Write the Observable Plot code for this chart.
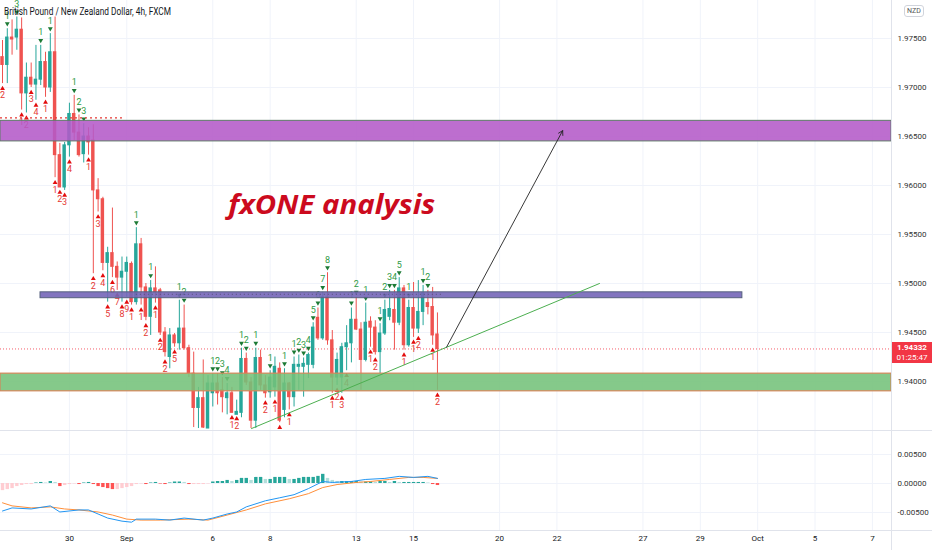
<!DOCTYPE html>
<html><head><meta charset="utf-8">
<script src="https://cdn.jsdelivr.net/npm/d3@7"></script>
<script src="https://cdn.jsdelivr.net/npm/@observablehq/plot@0.6"></script>
<style>
body{margin:0;background:#fff;}
#chart{position:relative;width:932px;height:550px;overflow:hidden;font-family:Roboto,"Liberation Sans",sans-serif;background:#fff;}
#chart svg{display:block;}
.sep{position:absolute;background:#e0e3eb;}
</style></head><body><div id="chart"></div>
<script>
// ---------- data ----------
const chartTitle = "British Pound / New Zealand Dollar, 4h, FXCM";
const barOpen = [1.9731,1.9723,1.9751,1.9751,1.9759,1.9694,1.9710,1.9703,1.9708,1.9726, 1.9700,1.9736,1.9631,1.9598,1.9641,1.9673,1.9654,1.9632,1.9650,1.9646, 1.9595,1.9586,1.9521,1.9531,1.9517,1.9506,1.9512,1.9520,1.9481,1.9540, 1.9496,1.9466,1.9495,1.9493,1.9450,1.9425,1.9447,1.9439,1.9454,1.9434, 1.9408,1.9373,1.9383,1.9352,1.9388,1.9398,1.9391,1.9383,1.9388,1.9366, 1.9368,1.9423,1.9399,1.9360,1.9424,1.9396,1.9389,1.9394,1.9413,1.9371, 1.9398,1.9384,1.9415,1.9415,1.9417,1.9417,1.9465,1.9444,1.9486,1.9442, 1.9404,1.9404,1.9435,1.9439,1.9463,1.9453,1.9422,1.9461,1.9455,1.9430, 1.9449,1.9466,1.9473,1.9460,1.9495,1.9437,1.9475,1.9454,1.9471,1.9480, 1.9476,1.9448];
const barHigh = [1.9748,1.9760,1.9769,1.9772,1.9771,1.9725,1.9725,1.9743,1.9743,1.9736, 1.9755,1.9772,1.9643,1.9644,1.9684,1.9692,1.9672,1.9663,1.9659,1.9662, 1.9607,1.9588,1.9537,1.9577,1.9522,1.9527,1.9527,1.9522,1.9557,1.9546, 1.9500,1.9503,1.9517,1.9495,1.9455,1.9454,1.9449,1.9483,1.9478,1.9437, 1.9430,1.9394,1.9422,1.9406,1.9408,1.9408,1.9404,1.9398,1.9394,1.9381, 1.9434,1.9429,1.9404,1.9434,1.9432,1.9406,1.9411,1.9425,1.9419,1.9413, 1.9399,1.9425,1.9427,1.9424,1.9429,1.9460,1.9475,1.9491,1.9511,1.9452, 1.9429,1.9439,1.9457,1.9475,1.9486,1.9460,1.9480,1.9466,1.9462,1.9459, 1.9483,1.9493,1.9493,1.9506,1.9498,1.9483,1.9501,1.9503,1.9498,1.9493, 1.9496,1.9470];
const barLow = [1.9704,1.9704,1.9733,1.9738,1.9677,1.9674,1.9700,1.9687,1.9702,1.9690, 1.9695,1.9608,1.9598,1.9595,1.9629,1.9646,1.9629,1.9623,1.9631,1.9510, 1.9573,1.9513,1.9481,1.9506,1.9493,1.9481,1.9486,1.9478,1.9478,1.9478, 1.9462,1.9447,1.9480,1.9447,1.9425,1.9413,1.9435,1.9432,1.9432,1.9404, 1.9353,1.9352,1.9352,1.9352,1.9374,1.9376,1.9368,1.9366,1.9368,1.9367, 1.9363,1.9396,1.9352,1.9352,1.9391,1.9383,1.9383,1.9384,1.9358,1.9363, 1.9371,1.9374,1.9391,1.9384,1.9403,1.9413,1.9442,1.9442,1.9437,1.9388, 1.9396,1.9388,1.9411,1.9419,1.9452,1.9391,1.9420,1.9435,1.9427,1.9408, 1.9447,1.9462,1.9432,1.9457,1.9432,1.9435,1.9445,1.9449,1.9457,1.9468, 1.9437,1.9391];
const barClose = [1.9723,1.9751,1.9749,1.9759,1.9694,1.9710,1.9703,1.9708,1.9726,1.9700, 1.9736,1.9631,1.9598,1.9641,1.9673,1.9654,1.9631,1.9650,1.9644,1.9595, 1.9586,1.9521,1.9531,1.9517,1.9506,1.9512,1.9521,1.9481,1.9540,1.9496, 1.9466,1.9495,1.9491,1.9450,1.9430,1.9447,1.9439,1.9454,1.9434,1.9408, 1.9373,1.9383,1.9353,1.9398,1.9398,1.9388,1.9384,1.9388,1.9368,1.9369, 1.9423,1.9399,1.9360,1.9424,1.9396,1.9388,1.9404,1.9415,1.9360,1.9398, 1.9384,1.9417,1.9417,1.9418,1.9427,1.9455,1.9444,1.9486,1.9442,1.9404, 1.9422,1.9435,1.9439,1.9463,1.9453,1.9422,1.9460,1.9455,1.9430,1.9449, 1.9473,1.9474,1.9460,1.9495,1.9437,1.9475,1.9454,1.9471,1.9490,1.9476, 1.9447,1.94332];

const macdHist = [-0.00123,-0.00105,-0.00088,-0.00053,-0.00035,-0.00018,-0.00018,0.00009,0.00018,0.00009, 0.00035,0.00018,-0.00053,-0.00035,-0.00018,-0.00009,-0.00018,0.00009,0.00018,-0.00018, -0.00053,-0.00070,-0.00088,-0.00105,-0.00105,-0.00088,-0.00070,-0.00053,-0.00018,-0.00009, -0.00018,0.00009,0.00018,-0.00009,-0.00018,0.00009,0.00026,0.00026,0.00018,-0.00018, -0.00018,-0.00018,-0.00018,-0.00009,0.00026,0.00035,0.00035,0.00053,0.00035,0.00053, 0.00088,0.00088,0.00053,0.00105,0.00105,0.00070,0.00070,0.00105,0.00105,0.00105, 0.00070,0.00070,0.00088,0.00105,0.00105,0.00105,0.00123,0.00158,0.00088,0.00053, 0.00035,0.00035,0.00035,0.00035,0.00035,0.00026,0.00026,0.00026,0.00018,0.00035, 0.00035,0.00018,0.00035,0.00018,0.00018,0.00018,0.00018,0.00018,0.00018,0.00009, -0.00018,-0.00035];
const macdIdx = [0,2,6,10,12,16,18,20,22,25,27,28,32,35,38,42,44,47,49,51,55,58,61,64,67,69,73,76,80,83,86,89,91];
const macdVal = [-0.00474,-0.00421,-0.00439,-0.00386,-0.00491,-0.00456,-0.00456,-0.00526,-0.00596,-0.00649,-0.00667,-0.00614,-0.00614,-0.00631,-0.00596,-0.00631,-0.00596,-0.00526,-0.00491,-0.00403,-0.00298,-0.00246,-0.00193,-0.00088,0.00035,0.00018,0.00035,0.00070,0.00088,0.00123,0.00105,0.00123,0.00088];
const signalIdx = [0,2,6,10,13,16,20,23,26,29,33,39,43,47,51,55,60,64,67,70,74,77,81,85,88,91];
const signalVal = [-0.00333,-0.00386,-0.00421,-0.00403,-0.00439,-0.00456,-0.00491,-0.00544,-0.00614,-0.00631,-0.00631,-0.00614,-0.00631,-0.00544,-0.00456,-0.00351,-0.00263,-0.00175,-0.00070,-0.00018,0.00018,0.00035,0.00070,0.00105,0.00105,0.00088];

const greenCounts = [[1,"1"],[3,"3"],[8,"1"],[10,"1"],[15,"1"],[16,"2"],[17,"3"],[28,"1"],[31,"1"],[37,"1"],[38,"2"],[44,"1"],[45,"2"],[46,"3"],[47,"4"],[50,"1"],[51,"2"],[53,"1"],[56,"1"],[59,"1"],[61,"1"],[62,"2"],[63,"3"],[64,"4"],[65,"5"],[66,"6"],[67,"7"],[68,"8"],[73,"1"],[74,"2"],[76,"1"],[79,"1"],[80,"2"],[81,"3"],[82,"4"],[83,"5"],[85,"1"],[88,"1"],[89,"2"]];
const redCounts = [[0,"2"],[4,"1"],[5,"2"],[6,"3"],[7,"4"],[9,"1"],[11,"1"],[12,"2"],[13,"3"],[14,"4"],[18,"1"],[19,"2"],[20,"3"],[21,"4"],[22,"5"],[23,"6"],[24,"7"],[25,"8"],[26,"9"],[27,"1"],[29,"1"],[30,"2"],[32,"1"],[33,"2"],[34,"2"],[36,"5"],[48,"1"],[49,"2"],[55,"2"],[57,"1"],[60,"1"],[69,"1"],[70,"2"],[71,"3"],[72,"4"],[77,"1"],[78,"2"],[84,"1"],[86,"1"],[87,"2"],[90,"1"],[91,"2"]];
const redArrowsOnly = [58];

const dayTickIdx = [14,26,44,56,74,86,104,116,134,146,158,170,182];
const dayLabels = ["30","Sep","6","8","13","15","20","22","27","29","Oct","5","7"];
const priceTicks = [1.940,1.945,1.950,1.955,1.960,1.965,1.970,1.975];
const macdTicks = [-0.005,0,0.005];

const purpleZone = {y1:1.9645, y2:1.9666};
const blueBand = {x1:7.95, x2:154.8, y1:1.9485, y2:1.9491};
const greenZone = {y1:1.9390, y2:1.9408};
const redDotted = {y:1.9669, x1:-0.42, x2:25.1};
const bandDots = {y:1.9489, x1:28, x2:92};
const trendLine = [{i:52.1, p:1.9352},{i:124.9, p:1.9500}];
const arrowLine = {x1:92.9, y1:1.9435, x2:117.2, y2:1.9656};
const lastPrice = 1.94332;
const lastPriceText = "1.94332";
const countdown = "01:25:47";
const note = {text:"fxONE analysis", i:69, p:1.9570};

// ---------- derived ----------
const UP = "#26a69a", DN = "#ef5350";
const bars = barOpen.map((o,i)=>({i, o, h:barHigh[i], l:barLow[i], c:barClose[i], col: barClose[i]>=o?UP:DN}));
const hist = macdHist.map((h,i)=>{
  const prev = i>0?macdHist[i-1]:h;
  const col = h>=0 ? (h>=prev?"#26a69a":"#b2dfdb") : (h<prev?"#ff5252":"#ffcdd2");
  return {i,h,col};
});
const macdPts = macdIdx.map((i,k)=>({i, v:macdVal[k]}));
const sigPts = signalIdx.map((i,k)=>({i, v:signalVal[k]}));
const gMarks = greenCounts.map(([i,t])=>({i,t,p:barHigh[i]}));
const rMarks = redCounts.map(([i,t])=>({i,t,p:barLow[i]}));
const rTri = rMarks.concat(redArrowsOnly.map(i=>({i,t:"",p:barLow[i]})));
const labelMap = new Map(dayTickIdx.map((d,k)=>[d,dayLabels[k]]));
const XDOM = [-0.42, 186];
const GRID = "#f0f3fa";
const FONT = "Roboto, 'Liberation Sans', sans-serif";

const pricePlot = Plot.plot({
  width:932, height:430, marginTop:0, marginBottom:0, marginLeft:0, marginRight:41,
  x:{domain:XDOM, axis:null},
  y:{domain:[1.93500,1.97888]},
  style:{fontFamily:FONT, fontSize:"8px", color:"#131722", background:"transparent"},
  marks:[
    Plot.ruleX(dayTickIdx,{stroke:GRID}),
    Plot.ruleY(priceTicks,{stroke:GRID}),
    Plot.axisY({anchor:"right", ticks:priceTicks, tickFormat:d=>d.toFixed(5), tickSize:0, tickPadding:6, label:null, fill:"#333"}),
    Plot.ruleY([lastPrice],{stroke:"#f23645", strokeDasharray:"1,2", strokeOpacity:0.8}),
    Plot.ruleX(bars,{x:"i", y1:"l", y2:"h", stroke:"col", strokeWidth:1}),
    Plot.rect(bars,{x1:d=>d.i-0.36, x2:d=>d.i+0.36, y1:"o", y2:"c", fill:"col", insetTop:-0.5, insetBottom:-0.5}),
    Plot.dot(gMarks,{x:"i", y:"p", symbol:"triangle", rotate:180, r:1.8, fill:"#1d7a35", stroke:"none", dy:-5}),
    Plot.text(gMarks,{x:"i", y:"p", text:"t", fill:"#2f9a45", fontSize:9, dy:-13}),
    Plot.dot(rTri,{x:"i", y:"p", symbol:"triangle", r:1.8, fill:"#e30d0d", stroke:"none", dy:5}),
    Plot.text(rMarks,{x:"i", y:"p", text:"t", fill:"#e53935", fontSize:9, dy:12}),
    Plot.ruleY([redDotted],{y:"y", x1:"x1", x2:"x2", stroke:"#e53935", strokeDasharray:"2,3", strokeWidth:1.2}),
    Plot.rect([purpleZone],{x1:XDOM[0], x2:XDOM[1], y1:"y1", y2:"y2", fill:"#b45ac8", fillOpacity:0.88, stroke:"#5f7a68", strokeWidth:1}),
    Plot.rect([blueBand],{x1:"x1", x2:"x2", y1:"y1", y2:"y2", fill:"#7466b8", fillOpacity:0.9, stroke:"#56617e", strokeWidth:1}),
    Plot.ruleY([bandDots],{y:"y", x1:"x1", x2:"x2", stroke:"#3a3a4a", strokeDasharray:"1,3", strokeOpacity:0.6}),
    Plot.rect([greenZone],{x1:XDOM[0], x2:XDOM[1], y1:"y1", y2:"y2", fill:"#74c27a", fillOpacity:0.88, stroke:"#d3875a", strokeWidth:1.2}),
    Plot.line(trendLine,{x:"i", y:"p", stroke:"#4caf50", strokeWidth:1}),
    Plot.arrow([arrowLine],{x1:"x1", y1:"y1", x2:"x2", y2:"y2", stroke:"#222", strokeWidth:0.9, headLength:8, bend:0})
  ]
});

const macdPlot = Plot.plot({
  width:932, height:120, marginTop:0, marginBottom:20, marginLeft:0, marginRight:41,
  x:{domain:XDOM},
  y:{domain:[-0.008103,0.009138]},
  style:{fontFamily:FONT, fontSize:"8px", color:"#131722", background:"transparent"},
  marks:[
    Plot.ruleX(dayTickIdx,{stroke:GRID}),
    Plot.ruleY(macdTicks,{stroke:GRID}),
    Plot.axisY({anchor:"right", ticks:macdTicks, tickFormat:d=>d.toFixed(5), tickSize:0, tickPadding:6, label:null, fill:"#333"}),
    Plot.axisX({anchor:"bottom", ticks:dayTickIdx, tickFormat:d=>labelMap.get(d), tickSize:0, tickPadding:5, label:null, fill:"#131722"}),
    Plot.ruleX(hist,{x:"i", y1:0, y2:"h", stroke:"col", strokeWidth:3.4}),
    Plot.line(sigPts,{x:"i", y:"v", stroke:"#ff8f3a", strokeWidth:1}),
    Plot.line(macdPts,{x:"i", y:"v", stroke:"#2196f3", strokeWidth:1})
  ]
});

const root = document.getElementById("chart");
root.append(pricePlot);
root.append(macdPlot);

// annotations on the price pane
const sx = pricePlot.scale("x"), sy = pricePlot.scale("y");
const svgTop = d3.select(pricePlot);
svgTop.append("text").attr("x",4).attr("y",15).attr("font-size",10).attr("fill","#131722").attr("text-anchor","start")
  .attr("font-family",FONT).attr("textLength",167).attr("lengthAdjust","spacingAndGlyphs").text(chartTitle);
svgTop.append("text").attr("x",sx.apply(note.i)).attr("y",sy.apply(note.p)).attr("text-anchor","middle")
  .attr("font-size",26).attr("font-weight","bold").attr("font-style","italic").attr("fill","#cc0a1e")
  .attr("font-family","'Open Sans','Liberation Sans',sans-serif").attr("textLength",207).attr("lengthAdjust","spacingAndGlyphs").text(note.text);

// separators
function sep(l,t,w,h){const d=document.createElement("div");d.className="sep";Object.assign(d.style,{left:l+"px",top:t+"px",width:w+"px",height:h+"px"});root.append(d);}
sep(0,430,932,1); sep(0,530,932,1); sep(891,0,1,550);

// currency box
const nzd=document.createElement("div");
Object.assign(nzd.style,{position:"absolute",left:"904px",top:"5px",padding:"0 2px",border:"1px solid #d1d4dc",borderRadius:"3px",fontSize:"7px",lineHeight:"10px",color:"#555",background:"#fff"});
nzd.textContent="NZD"; root.append(nzd);

// last price label
const ly = sy.apply(lastPrice);
const lp=document.createElement("div");
Object.assign(lp.style,{position:"absolute",left:"892px",top:(ly-6)+"px",width:"40px",height:"21px",background:"#f23645",color:"#fff",fontSize:"8px",lineHeight:"9.5px",textAlign:"center",paddingTop:"1px",boxSizing:"border-box"});
lp.innerHTML="<b>"+lastPriceText+"</b><br>"+countdown; root.append(lp);
</script>
</body></html>
